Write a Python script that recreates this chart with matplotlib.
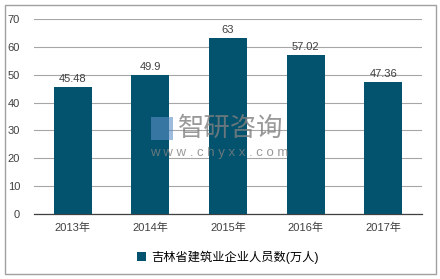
import matplotlib.pyplot as plt
from matplotlib.patches import Rectangle

plt.rcParams['font.family'] = ['Liberation Sans', 'Noto Sans CJK SC', 'DejaVu Sans']

# data
years = ['2013年', '2014年', '2015年', '2016年', '2017年']
values = [45.48, 49.9, 63, 57.02, 47.36]
labels = ['45.48', '49.9', '63', '57.02', '47.36']
series_name = '吉林省建筑业企业人员数(万人)'
bar_color = '#03536e'

fig = plt.figure(figsize=(4.4, 2.79), dpi=100)
ax = fig.add_axes([0.077, 0.233, 0.882, 0.699])

bars = ax.bar(years, values, width=0.49, color=bar_color, label=series_name, zorder=3)
for b, t in zip(bars, labels):
    ax.text(b.get_x() + b.get_width() / 2, b.get_height() + 1.2, t,
            ha='center', va='bottom', fontsize=8, color='#404040')

ax.set_ylim(0, 70)
ax.set_yticks(range(0, 71, 10))
ax.set_xlim(-0.5, 4.5)
ax.grid(axis='y', color='#a6a6a6', linewidth=0.8, zorder=0)
for s in ['left', 'right', 'top']:
    ax.spines[s].set_visible(False)
ax.spines['bottom'].set_color('#404040')
ax.spines['bottom'].set_linewidth(0.9)
ax.tick_params(axis='both', length=0, labelsize=8, colors='#404040')
ax.tick_params(axis='y', pad=10)
ax.tick_params(axis='x', pad=6)

ax.legend(loc='upper center', bbox_to_anchor=(0.5, -0.13), frameon=False,
          fontsize=8.8, handlelength=0.7, handleheight=0.7, handletextpad=0.4)

# watermark
fig.text(0.405, 0.54, '智研咨询', fontsize=19, color='#808080', alpha=0.8,
         family=['Noto Sans CJK SC'], va='center', zorder=5)
fig.text(0.34, 0.45, 'w w w . c h y x x . c o m', fontsize=9.5, color='#808080',
         alpha=0.8, va='center', zorder=5)
fig.patches.append(Rectangle((0.343, 0.5), 0.05, 0.08, transform=fig.transFigure,
                             facecolor='#5b8fc7', alpha=0.6, edgecolor='none', zorder=5))

# outer border
fig.patches.append(Rectangle((5 / 440, 5 / 279), 431 / 440, 269 / 279,
                             transform=fig.transFigure, fill=False,
                             edgecolor='#a0a0a0', linewidth=1))

fig.savefig('out.png', dpi=100)
